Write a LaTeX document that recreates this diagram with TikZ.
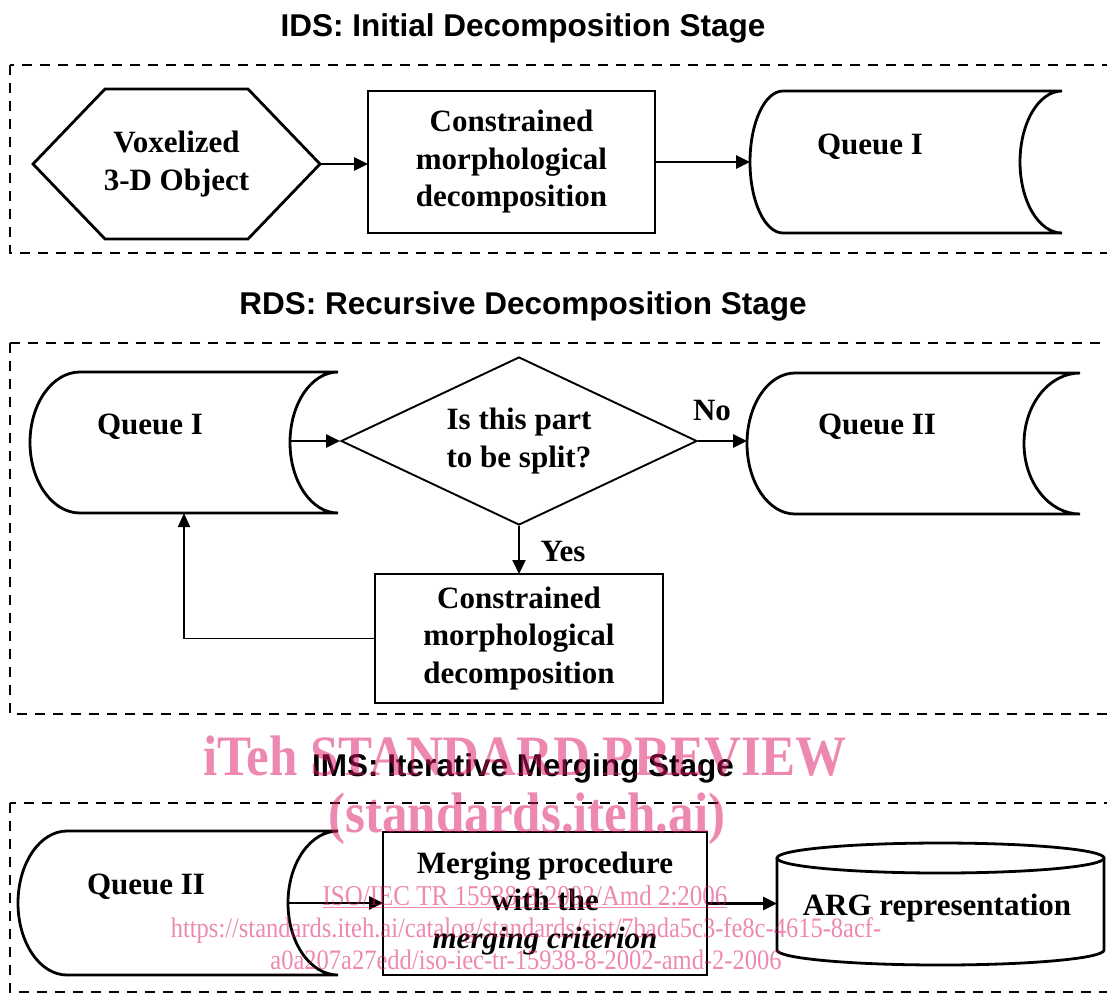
\documentclass[tikz,border=0pt]{standalone}
\usepackage{fontspec}
\setmainfont{Liberation Serif}
\newfontfamily\headfont{Liberation Sans}
\usetikzlibrary{arrows.meta,calc,shapes.geometric}

\definecolor{wmark}{RGB}{220,20,100}

\tikzset{
  stageframe/.style={draw, line width=2.8pt, dash pattern=on 10pt off 8pt},
  stagetitle/.style={anchor=base, inner sep=0pt, font=\headfont\bfseries\fontsize{31.5}{36}\selectfont},
  nodetext/.style={font=\bfseries\fontsize{31}{37.5}\selectfont, align=center},
  shapebox/.style={inner sep=0pt, outer sep=0pt},
  procbox/.style={shapebox, draw, line width=2.8pt, nodetext},
  outline/.style={line width=2.8pt},
  flow/.style={line width=2.8pt, -{Triangle[length=14pt,width=13pt]}},
  backflow/.style={line width=1.4pt, -{Triangle[length=14pt,width=12pt]}},
  wm/.style={anchor=base, inner sep=0pt, text=wmark, opacity=0.5},
}

% stored-data outline round a named node: name, left bulge, right hollow, half height
\newcommand\queueoutline[4]{%
  \draw[outline] ($(#1.north west)+(#2,0)$) -- (#1.north east)
    arc[start angle=90, end angle=270, x radius=#3, y radius=#4]
    -- ($(#1.south west)+(#2,0)$)
    arc[start angle=270, end angle=90, x radius=#2, y radius=#4];
  \coordinate (#1-in) at ($(#1.east)+(-#3,0)$);
}

\begin{document}
\begin{tikzpicture}[x=1pt, y=1pt]
\path[use as bounding box] (0,0) rectangle (1107,-994);

% ---------------- stage titles and frames ----------------
\node[stagetitle] (ids) at (523,-36) {IDS: Initial Decomposition Stage};
\node[stagetitle] (rds) at (523,-314) {RDS: Recursive Decomposition Stage};
\node[stagetitle] (ims) at (523,-776) {IMS: Iterative Merging Stage};

\draw[stageframe] (10,-65) rectangle (1120,-253);
\draw[stageframe] (10,-343) rectangle (1120,-714);
\draw[stageframe] (10,-803) rectangle (1120,-992);

% ---------------- IDS ----------------
\node[shapebox, nodetext, minimum width=287pt, minimum height=150pt] (hex) at (176.5,-164)
  {Voxelized\\3-D Object};
\draw[outline, line join=miter] (hex.west) -- ($(hex.north west)+(72,0)$) -- ($(hex.north east)+(-72,0)$)
  -- (hex.east) -- ($(hex.south east)+(-72,0)$) -- ($(hex.south west)+(72,0)$) -- cycle;

\node[procbox, minimum width=287pt, minimum height=142pt] (c1) at (511.5,-162)
  {Constrained\\morphological\\decomposition};

\node[shapebox, minimum width=312pt, minimum height=142pt] (q1) at (906,-162) {};
\queueoutline{q1}{33}{42}{71}
\node[nodetext] (q1t) at (870,-147) {Queue I};

\draw[flow] (hex.east) -- (hex.east -| c1.west);
\draw[flow] (c1.east) -- (c1.east -| q1.west);

% ---------------- RDS ----------------
\node[shapebox, minimum width=308pt, minimum height=141pt] (q2) at (184,-442.5) {};
\queueoutline{q2}{50}{48}{70.5}
\node[nodetext] (q2t) at (150,-427) {Queue I};

\node[diamond, draw, line width=1.9pt, inner sep=0pt, aspect=2.12,
      minimum width=356pt, minimum height=168pt, nodetext] (d) at (519,-441)
  {Is this part\\to be split?};

\node[shapebox, minimum width=333pt, minimum height=141pt] (q3) at (913.5,-443.5) {};
\queueoutline{q3}{48}{56}{70.5}
\node[nodetext] (q3t) at (877,-427) {Queue II};

\node[procbox, minimum width=288pt, minimum height=129pt] (c2) at (519,-638.5)
  {Constrained\\morphological\\decomposition};

\node[nodetext] (no) at (712,-410) {No};
\node[nodetext] (yes) at (563,-551) {Yes};

\draw[flow] (q2-in |- d.west) -- (d.west);
\draw[flow] (d.east) -- (d.east -| q3.west);
\draw[flow, line width=2.2pt] (d.south) -- (c2.north);
\draw[backflow] (c2.west) -| (q2.south);

% ---------------- IMS ----------------
\node[shapebox, minimum width=320pt, minimum height=144pt] (q4) at (178,-903) {};
\queueoutline{q4}{49}{50}{72}
\node[nodetext] (q4t) at (146,-887) {Queue II};

\node[procbox, minimum width=324pt, minimum height=143pt] (c3) at (545,-903.5)
  {Merging procedure\\with the\\\textit{merging criterion}};

\node[shapebox, minimum width=327pt, minimum height=122pt] (cyl) at (940.5,-904) {};
\draw[outline] ($(cyl.north)+(0,-15)$) ellipse[x radius=163.5, y radius=15];
\draw[outline] ($(cyl.north west)+(0,-15)$) -- ($(cyl.south west)+(0,15)$)
  arc[start angle=180, end angle=360, x radius=163.5, y radius=15]
  -- ($(cyl.north east)+(0,-15)$);
\node[nodetext] (cylt) at (937,-908) {ARG representation};

\draw[flow] (q4-in) -- (q4-in -| c3.west);
\draw[flow] (c3.east) -- (c3.east -| cyl.west);

% ---------------- preview stamp ----------------
\node[wm, font=\bfseries\fontsize{51}{51}\selectfont] (wm1) at (525,-775) {\scalebox{1}[1.12]{iTeh STANDARD PREVIEW}};
\node[wm, font=\bfseries\fontsize{51}{51}\selectfont] (wm2) at (527,-832) {\scalebox{1}[1.12]{(standards.iteh.ai)}};
\node[wm, font=\fontsize{25}{25}\selectfont] (wm3) at (525,-905) {\scalebox{1}[1.15]{\underline{ISO/IEC TR 15938-8:2002/Amd 2:2006}}};
\node[wm, font=\fontsize{24.5}{25}\selectfont] (wm4) at (526,-937) {\scalebox{1}[1.15]{https://standards.iteh.ai/catalog/standards/sist/7bada5c3-fe8c-4615-8acf-}};
\node[wm, font=\fontsize{24.5}{25}\selectfont] (wm5) at (526,-969) {\scalebox{1}[1.15]{a0a207a27edd/iso-iec-tr-15938-8-2002-amd-2-2006}};
\end{tikzpicture}
\end{document}
